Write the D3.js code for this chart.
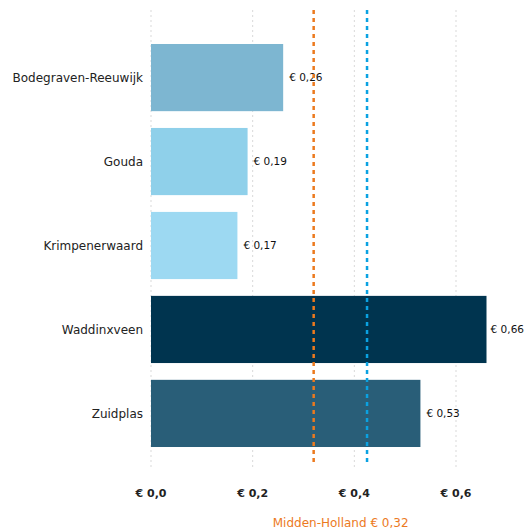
<!DOCTYPE html>
<html><head><meta charset="utf-8">
<script src="https://cdn.jsdelivr.net/npm/d3@7"></script>
<style>body{margin:0;background:#fff}svg{display:block}text{font-family:"DejaVu Sans",Verdana,sans-serif}</style>
</head><body>
<svg id="c" width="525" height="532"></svg>
<script>
const categories = ["Bodegraven-Reeuwijk","Gouda","Krimpenerwaard","Waddinxveen","Zuidplas"];
const values = [0.26,0.19,0.17,0.66,0.53];
const barColors = ["#7db6d1","#8fd0ea","#9dd9f2","#00344f","#295e78"];
const ticks = [0,0.2,0.4,0.6];
const refOrange = {label:"Midden-Holland € 0,32", value:0.32};
const refBlue = {value:0.425};

const svg = d3.select("#c");
const x = d3.scaleLinear().domain([0,0.6]).range([151,456]);
const y = d3.scaleBand().domain(categories).range([35.6,455.4]).paddingInner(0.2).paddingOuter(0.1);
const fmt = v => "€ " + v.toFixed(2).replace(".", ",");
const fmt1 = v => "€ " + v.toFixed(1).replace(".", ",");

// grid
svg.append("g").selectAll("line").data(ticks).join("line")
  .attr("x1",d=>x(d)).attr("x2",d=>x(d)).attr("y1",10).attr("y2",470)
  .attr("stroke","#d9d9d9").attr("stroke-width",1).attr("stroke-dasharray","2,3");

// bars
svg.append("g").selectAll("rect").data(categories).join("rect")
  .attr("x",x(0)).attr("y",d=>y(d)).attr("height",y.bandwidth())
  .attr("width",(d,i)=>x(values[i])-x(0)).attr("fill",(d,i)=>barColors[i]);

// value labels
svg.append("g").selectAll("text").data(categories).join("text")
  .attr("y",d=>y(d)+y.bandwidth()/2)
  .attr("dy","0.35em").attr("font-size",10.5).attr("fill","#111")
  .text((d,i)=>fmt(values[i]))
  .each(function(d,i){
    const w = this.getComputedTextLength();
    const px = Math.min(x(values[i])+6, 524 - w);
    d3.select(this).attr("x", px);
  });

// category labels
svg.append("g").selectAll("text").data(categories).join("text")
  .attr("x",143).attr("y",d=>y(d)+y.bandwidth()/2).attr("dy","0.35em")
  .attr("text-anchor","end").attr("font-size",12).attr("fill","#222").text(d=>d);

// x axis labels
svg.append("g").selectAll("text").data(ticks).join("text")
  .attr("x",d=>x(d)).attr("y",497).attr("text-anchor","middle")
  .attr("font-size",11).attr("font-weight","bold").attr("fill","#222").text(d=>fmt1(d));

// reference lines
svg.append("line").attr("x1",x(refOrange.value)).attr("x2",x(refOrange.value))
  .attr("y1",10).attr("y2",466).attr("stroke","#ec7a1e").attr("stroke-width",2.5).attr("stroke-dasharray","4,4");
svg.append("line").attr("x1",x(refBlue.value)).attr("x2",x(refBlue.value))
  .attr("y1",10).attr("y2",466).attr("stroke","#0aa2e2").attr("stroke-width",2.5).attr("stroke-dasharray","4,4");
svg.append("text").attr("x",x(refOrange.value)+27).attr("y",527).attr("text-anchor","middle")
  .attr("font-size",12).attr("fill","#ec7a1e").text(refOrange.label);
</script>
</body></html>
